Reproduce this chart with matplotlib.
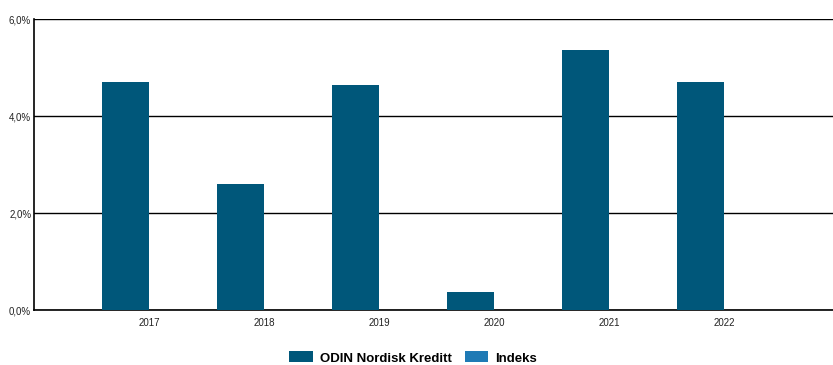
import numpy as np
import matplotlib.pyplot as plt
from matplotlib.ticker import FuncFormatter

years = ['2017', '2018', '2019', '2020', '2021', '2022']
fund_values = [4.70, 2.60, 4.64, 0.37, 5.36, 4.70]
index_values = [np.nan, np.nan, np.nan, np.nan, np.nan, np.nan]

fund_color = '#00577a'
index_color = '#1f7ab5'

plt.rcParams['font.family'] = ['Liberation Sans', 'DejaVu Sans']

fig = plt.figure(figsize=(8.33, 3.65), dpi=100)
ax = fig.add_axes([34 / 833, 55 / 365, 805 / 833, 291 / 365])

x = np.arange(1, len(years) + 1)
w = 47 / 115
ax.bar(x - w / 2, fund_values, width=w, color=fund_color, label='ODIN Nordisk Kreditt', zorder=3)
ax.bar(x + w / 2, index_values, width=w, color=index_color, label='Indeks', zorder=3)

ax.set_xlim(0, 7)
ax.set_ylim(0, 6)
ax.set_yticks([0, 2, 4, 6])
ax.yaxis.set_major_formatter(FuncFormatter(lambda v, p: f'{v:.1f}%'.replace('.', ',')))
ax.set_xticks(x)
ax.set_xticklabels(years)
ax.tick_params(axis='both', length=0, labelsize=7, colors='#222222')
ax.tick_params(axis='x', pad=6)
ax.tick_params(axis='y', pad=2)

ax.grid(axis='y', color='black', linewidth=1, zorder=1)
for s in ['top', 'right']:
    ax.spines[s].set_visible(False)
ax.spines['left'].set_linewidth(1.2)
ax.spines['bottom'].set_linewidth(1.2)

fig.legend(loc='center', bbox_to_anchor=(413 / 833, 7 / 365), ncol=2, frameon=False,
           prop={'weight': 'bold', 'size': 9.5}, handlelength=1.8, handleheight=0.9,
           columnspacing=1.0, handletextpad=0.5, borderpad=0.1)

fig.savefig('out.png', dpi=100)
